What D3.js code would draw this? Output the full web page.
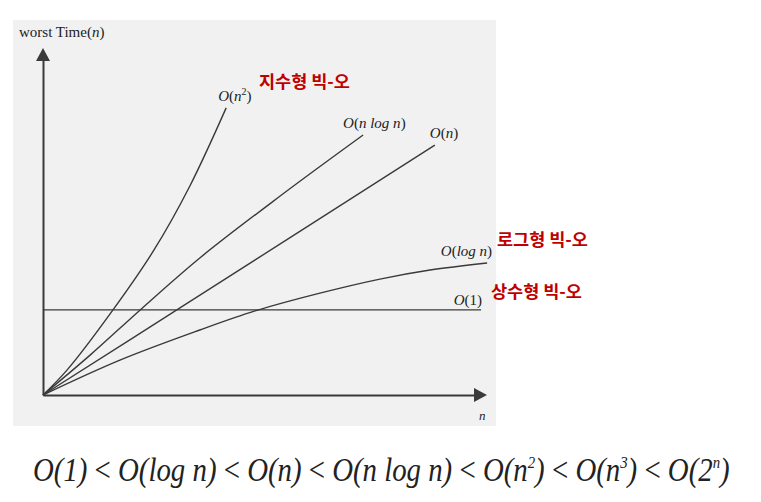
<!DOCTYPE html>
<html>
<head>
<meta charset="utf-8">
<script src="https://cdn.jsdelivr.net/npm/d3@7"></script>
<style>
    body { margin: 0; background: #fff; }
    .curve { fill: none; stroke: #3a3a3a; stroke-width: 1.4; }
    .axis path { stroke: #3a3a3a; stroke-width: 2; }
    .big { font-family: "Liberation Serif", serif; fill: #222; }
    .kor { font-family: "Noto Sans CJK KR", sans-serif; font-weight: bold; fill: #c00000; font-size: 17.5px; }
</style>
</head>
<body>
<div id="chart"></div>
<script>
// curve values (n on 0..100, time on 0..100)
let n2N = [0, 5.6, 16.2, 25.7, 34.0, 42.4];
let n2V = [0, 7.5, 25.4, 43.3, 62.4, 85.7];
let nlognN = [0, 10.9, 22.5, 36.3, 54.9, 74.1];
let nlognV = [0, 11.9, 25.4, 40.9, 59.4, 77.6];
let linN = [0, 31.7, 90.7];
let linV = [0, 26.0, 74.6];
let lognN = [0, 17.8, 36.3, 49.1, 64.1, 78.0, 89.6, 102.8];
let lognV = [0, 10.4, 19.4, 25.1, 30.4, 34.6, 37.3, 39.4];
let constN = [0, 101.4];
let constV = [25.4, 25.4];

let bigOs = ["O(1)", "O(log n)", "O(n)", "O(n log n)", "O(n²)", "O(n³)", "O(2ⁿ)"];
let korLabels = ["지수형 빅-오", "로그형 빅-오", "상수형 빅-오"];

let W = 761, H = 502;
let svg = d3.select("#chart").append("svg")
    .attr("width", W)
    .attr("height", H);

svg.append("rect")
    .attr("x", 13).attr("y", 20)
    .attr("width", 483).attr("height", 406)
    .attr("fill", "#f1f1f1");

let x = d3.scaleLinear().domain([0, 100]).range([43, 475]);
let y = d3.scaleLinear().domain([0, 100]).range([395, 60]);

// axes without ticks, arrow heads added after
svg.append("g")
    .attr("class", "axis")
    .attr("transform", "translate(0," + y(0) + ")")
    .call(d3.axisBottom(x).tickValues([]).tickSizeOuter(0));
svg.append("g")
    .attr("class", "axis")
    .attr("transform", "translate(" + x(0) + ",0)")
    .call(d3.axisLeft(y).tickValues([]).tickSizeOuter(0));

svg.append("path")
    .attr("d", "M" + (x(100) - 1) + "," + (y(0) - 7) + "L" + (x(100) + 12) + "," + y(0) + "L" + (x(100) - 1) + "," + (y(0) + 7) + "Z")
    .attr("fill", "#3a3a3a");
svg.append("path")
    .attr("d", "M" + (x(0) - 7) + "," + (y(100) + 1) + "L" + x(0) + "," + (y(100) - 12) + "L" + (x(0) + 7) + "," + (y(100) + 1) + "Z")
    .attr("fill", "#3a3a3a");

let line = d3.line()
    .x(d => x(d[0]))
    .y(d => y(d[1]))
    .curve(d3.curveCatmullRom.alpha(0.5));

let series = [
    {n: n2N, v: n2V, dx: -8, dy: -7, anchor: "start", parts: [["O", "i"], ["(", ""], ["n", "i"], ["2", "sup"], [")", ""]]},
    {n: nlognN, v: nlognV, dx: -20, dy: -7, anchor: "start", parts: [["O", "i"], ["(", ""], ["n log n", "i"], [")", ""]]},
    {n: linN, v: linV, dx: -5, dy: -7, anchor: "start", parts: [["O", "i"], ["(", ""], ["n", "i"], [")", ""]]},
    {n: lognN, v: lognV, dx: 5, dy: -7, anchor: "end", parts: [["O", "i"], ["(", ""], ["log n", "i"], [")", ""]]},
    {n: constN, v: constV, dx: 1, dy: -5, anchor: "end", parts: [["O", "i"], ["(1)", ""]]}
];

series.forEach(s => {
    let pts = s.n.map((d, i) => [d, s.v[i]]);
    svg.append("path")
        .datum(pts)
        .attr("class", "curve")
        .attr("d", line);

    let last = pts[pts.length - 1];
    let t = svg.append("text")
        .attr("class", "big")
        .attr("x", x(last[0]) + s.dx)
        .attr("y", y(last[1]) + s.dy)
        .attr("text-anchor", s.anchor)
        .attr("font-size", 15);
    s.parts.forEach(p => {
        let ts = t.append("tspan").text(p[0]);
        if (p[1] == "i") ts.attr("font-style", "italic");
        if (p[1] == "sup") ts.attr("font-size", 10).attr("dy", -6);
        else if (p[0] == ")" && s.parts.some(q => q[1] == "sup")) ts.attr("dy", 6);
    });
});

// korean notes
svg.append("text").attr("class", "kor").attr("x", 259).attr("y", 88).text(korLabels[0]);
svg.append("text").attr("class", "kor").attr("x", 497).attr("y", 246).text(korLabels[1]);
svg.append("text").attr("class", "kor").attr("x", 491).attr("y", 298).text(korLabels[2]);

// axis titles
let yt = svg.append("text")
    .attr("class", "big")
    .attr("x", 19).attr("y", 37)
    .attr("font-size", 15);
yt.append("tspan").text("worst Time(");
yt.append("tspan").attr("font-style", "italic").text("n");
yt.append("tspan").text(")");

svg.append("text")
    .attr("class", "big")
    .attr("x", 479).attr("y", 420)
    .attr("font-size", 13)
    .attr("font-style", "italic")
    .text("n");

// ordering formula at the bottom
let f = svg.append("text")
    .attr("class", "big")
    .attr("x", 0).attr("y", 0)
    .attr("font-size", 33)
    .attr("font-style", "italic");
bigOs.forEach((b, i) => {
    let m = b.match(/^(.*?)([²³ⁿ])(\))$/);
    if (m) {
        f.append("tspan").text(m[1]);
        f.append("tspan").attr("font-size", 17).attr("dy", -13).text({"²": "2", "³": "3", "ⁿ": "n"}[m[2]]);
        f.append("tspan").attr("dy", 13).text(m[3]);
    } else {
        f.append("tspan").text(b);
    }
    if (i < bigOs.length - 1) f.append("tspan").attr("font-style", "normal").text(" < ");
});
let bw = f.node().getComputedTextLength();
f.attr("transform", "translate(33,481) scale(" + (697 / bw) + ",1)");
</script>
</body>
</html>
